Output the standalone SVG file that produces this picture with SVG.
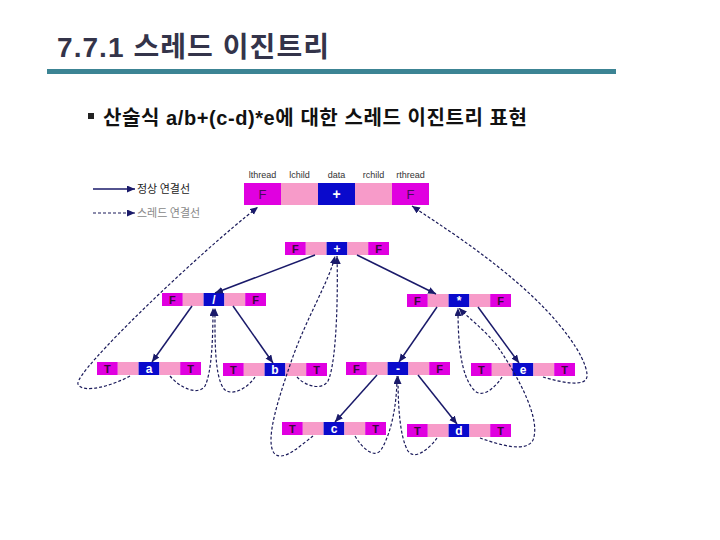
<svg xmlns="http://www.w3.org/2000/svg" width="720" height="540" viewBox="0 0 720 540">
<style>
.m{fill:#E000E0}
.p{fill:#F79BC9}
.b{fill:#0A0ACC}
.ft{font-family:"Liberation Sans","DejaVu Sans",sans-serif;font-size:11px;font-weight:bold;fill:#3a0a3a;text-anchor:middle}
.dt{font-family:"Liberation Sans","DejaVu Sans",sans-serif;font-size:12px;font-weight:bold;fill:#ffffff;text-anchor:middle}
.sol{fill:none;stroke:#1a1a6a;stroke-width:1.5}
.dash{fill:none;stroke:#1a1a5a;stroke-width:1.2;stroke-dasharray:3 2}
.lbl{font-family:"Liberation Sans","DejaVu Sans",sans-serif;font-size:9px;fill:#333;text-anchor:middle}
.leg{font-family:"Noto Sans CJK KR",sans-serif;font-size:11px}
</style>
<defs>
<marker id="ah" markerUnits="userSpaceOnUse" markerWidth="9" markerHeight="8" refX="8" refY="3.5" orient="auto">
<path d="M0,0 L8,3.5 L0,7 z" fill="#1a1a6a"/>
</marker>
</defs>
<rect width="720" height="540" fill="#ffffff"/>
<text x="57" y="57" font-family="'Liberation Sans','Noto Sans CJK KR',sans-serif" font-size="28" font-weight="bold" fill="#34344a" textLength="272" lengthAdjust="spacing">7.7.1 스레드 이진트리</text>
<rect x="47" y="69" width="569" height="5" fill="#3C8494"/>
<rect x="88" y="113" width="6" height="6" fill="#222"/>
<text x="103" y="125" font-family="'Liberation Sans','Noto Sans CJK KR',sans-serif" font-size="20" font-weight="bold" fill="#111" textLength="424" lengthAdjust="spacing">산술식 a/b+(c-d)*e에 대한 스레드 이진트리 표현</text>

<g id="legend">
<path class="sol" d="M93,189 L135,189" marker-end="url(#ah)"/>
<text class="leg" x="137" y="193" fill="#222">정상 연결선</text>
<path class="dash" d="M93,213 L135,213" marker-end="url(#ah)"/>
<text class="leg" x="137" y="217" fill="#888">스레드 연결선</text>
</g>

<g id="header">
<text class="lbl" x="262.5" y="178">lthread</text>
<text class="lbl" x="299.5" y="178">lchild</text>
<text class="lbl" x="336.5" y="178">data</text>
<text class="lbl" x="373.5" y="178">rchild</text>
<text class="lbl" x="410.5" y="178">rthread</text>
<rect class="m" x="244" y="183" width="37" height="22"/>
<rect class="p" x="281" y="183" width="37" height="22"/>
<rect class="b" x="318" y="183" width="37" height="22"/>
<rect class="p" x="355" y="183" width="37" height="22"/>
<rect class="m" x="392" y="183" width="37" height="22"/>
<text x="262.5" y="199" font-family="'Liberation Sans',sans-serif" font-size="13" fill="#4a0a5a" text-anchor="middle">F</text>
<text x="336.5" y="199" font-family="'Liberation Sans',sans-serif" font-size="14" font-weight="bold" fill="#fff" text-anchor="middle">+</text>
<text x="410.5" y="199" font-family="'Liberation Sans',sans-serif" font-size="13" fill="#4a0a5a" text-anchor="middle">F</text>
</g>

<g id="n-plus" transform="translate(285,242)">
<rect class="m" x="0" y="0" width="20.8" height="13"/><rect class="p" x="20.8" y="0" width="20.8" height="13"/><rect class="b" x="41.6" y="0" width="20.8" height="13"/><rect class="p" x="62.4" y="0" width="20.8" height="13"/><rect class="m" x="83.2" y="0" width="20.8" height="13"/>
<text class="ft" x="10.4" y="11">F</text><text class="dt" x="52" y="11">+</text><text class="ft" x="93.6" y="11">F</text>
</g>
<g id="n-div" transform="translate(162,293)">
<rect class="m" x="0" y="0" width="20.8" height="13"/><rect class="p" x="20.8" y="0" width="20.8" height="13"/><rect class="b" x="41.6" y="0" width="20.8" height="13"/><rect class="p" x="62.4" y="0" width="20.8" height="13"/><rect class="m" x="83.2" y="0" width="20.8" height="13"/>
<text class="ft" x="10.4" y="11">F</text><text class="dt" x="52" y="11">/</text><text class="ft" x="93.6" y="11">F</text>
</g>
<g id="n-mul" transform="translate(407,294)">
<rect class="m" x="0" y="0" width="20.8" height="13"/><rect class="p" x="20.8" y="0" width="20.8" height="13"/><rect class="b" x="41.6" y="0" width="20.8" height="13"/><rect class="p" x="62.4" y="0" width="20.8" height="13"/><rect class="m" x="83.2" y="0" width="20.8" height="13"/>
<text class="ft" x="10.4" y="11">F</text><text class="dt" x="52" y="11">*</text><text class="ft" x="93.6" y="11">F</text>
</g>
<g id="n-a" transform="translate(97,362)">
<rect class="m" x="0" y="0" width="20.8" height="13"/><rect class="p" x="20.8" y="0" width="20.8" height="13"/><rect class="b" x="41.6" y="0" width="20.8" height="13"/><rect class="p" x="62.4" y="0" width="20.8" height="13"/><rect class="m" x="83.2" y="0" width="20.8" height="13"/>
<text class="ft" x="10.4" y="11">T</text><text class="dt" x="52" y="11">a</text><text class="ft" x="93.6" y="11">T</text>
</g>
<g id="n-b" transform="translate(223,363)">
<rect class="m" x="0" y="0" width="20.8" height="13"/><rect class="p" x="20.8" y="0" width="20.8" height="13"/><rect class="b" x="41.6" y="0" width="20.8" height="13"/><rect class="p" x="62.4" y="0" width="20.8" height="13"/><rect class="m" x="83.2" y="0" width="20.8" height="13"/>
<text class="ft" x="10.4" y="11">T</text><text class="dt" x="52" y="11">b</text><text class="ft" x="93.6" y="11">T</text>
</g>
<g id="n-minus" transform="translate(346,362)">
<rect class="m" x="0" y="0" width="20.8" height="13"/><rect class="p" x="20.8" y="0" width="20.8" height="13"/><rect class="b" x="41.6" y="0" width="20.8" height="13"/><rect class="p" x="62.4" y="0" width="20.8" height="13"/><rect class="m" x="83.2" y="0" width="20.8" height="13"/>
<text class="ft" x="10.4" y="11">F</text><text class="dt" x="52" y="11">-</text><text class="ft" x="93.6" y="11">F</text>
</g>
<g id="n-e" transform="translate(471,363)">
<rect class="m" x="0" y="0" width="20.8" height="13"/><rect class="p" x="20.8" y="0" width="20.8" height="13"/><rect class="b" x="41.6" y="0" width="20.8" height="13"/><rect class="p" x="62.4" y="0" width="20.8" height="13"/><rect class="m" x="83.2" y="0" width="20.8" height="13"/>
<text class="ft" x="10.4" y="11">T</text><text class="dt" x="52" y="11">e</text><text class="ft" x="93.6" y="11">T</text>
</g>
<g id="n-c" transform="translate(282,422)">
<rect class="m" x="0" y="0" width="20.8" height="13"/><rect class="p" x="20.8" y="0" width="20.8" height="13"/><rect class="b" x="41.6" y="0" width="20.8" height="13"/><rect class="p" x="62.4" y="0" width="20.8" height="13"/><rect class="m" x="83.2" y="0" width="20.8" height="13"/>
<text class="ft" x="10.4" y="11">T</text><text class="dt" x="52" y="11">c</text><text class="ft" x="93.6" y="11">T</text>
</g>
<g id="n-d" transform="translate(407,424)">
<rect class="m" x="0" y="0" width="20.8" height="13"/><rect class="p" x="20.8" y="0" width="20.8" height="13"/><rect class="b" x="41.6" y="0" width="20.8" height="13"/><rect class="p" x="62.4" y="0" width="20.8" height="13"/><rect class="m" x="83.2" y="0" width="20.8" height="13"/>
<text class="ft" x="10.4" y="11">T</text><text class="dt" x="52" y="11">d</text><text class="ft" x="93.6" y="11">T</text>
</g>

<g id="connectors">
<path class="sol" d="M315,255 L215,293" marker-end="url(#ah)"/>
<path class="sol" d="M357,255 L436,294" marker-end="url(#ah)"/>
<path class="sol" d="M192,306 L152,362" marker-end="url(#ah)"/>
<path class="sol" d="M233,306 L273,363" marker-end="url(#ah)"/>
<path class="sol" d="M437,307 L399,362" marker-end="url(#ah)"/>
<path class="sol" d="M478,307 L519,363" marker-end="url(#ah)"/>
<path class="sol" d="M377,375 L335,422" marker-end="url(#ah)"/>
<path class="sol" d="M418,375 L457,424" marker-end="url(#ah)"/>

<path class="dash" d="M130,376 C112,386 82,394 78,384 C74,372 200,252 258,207" marker-end="url(#ah)"/>
<path class="dash" d="M170,376 C180,388 198,396 205,386 C212,372 213,335 213,308" marker-end="url(#ah)"/>
<path class="dash" d="M255,377 C248,388 232,397 224,389 C214,376 215,335 215,308" marker-end="url(#ah)"/>
<path class="dash" d="M297,377 C305,386 322,391 328,381 C337,362 338,290 337,256" marker-end="url(#ah)"/>
<path class="dash" d="M313,436 C300,446 282,463 274,453 C265,440 278,400 290,365 C305,320 330,280 335,256" marker-end="url(#ah)"/>
<path class="dash" d="M355,436 C362,448 374,459 381,450 C393,430 397,400 397,376" marker-end="url(#ah)"/>
<path class="dash" d="M437,438 C430,448 415,461 408,451 C399,436 398,400 398,376" marker-end="url(#ah)"/>
<path class="dash" d="M480,438 C500,445 526,453 533,440 C541,420 520,380 500,350 C486,330 468,318 459,308" marker-end="url(#ah)"/>
<path class="dash" d="M502,377 C495,388 482,399 474,390 C460,375 458,340 458,308" marker-end="url(#ah)"/>
<path class="dash" d="M543,377 C560,382 589,389 587,374 C585,355 560,320 520,285 C480,250 440,225 412,206" marker-end="url(#ah)"/>
</g>
</svg>
